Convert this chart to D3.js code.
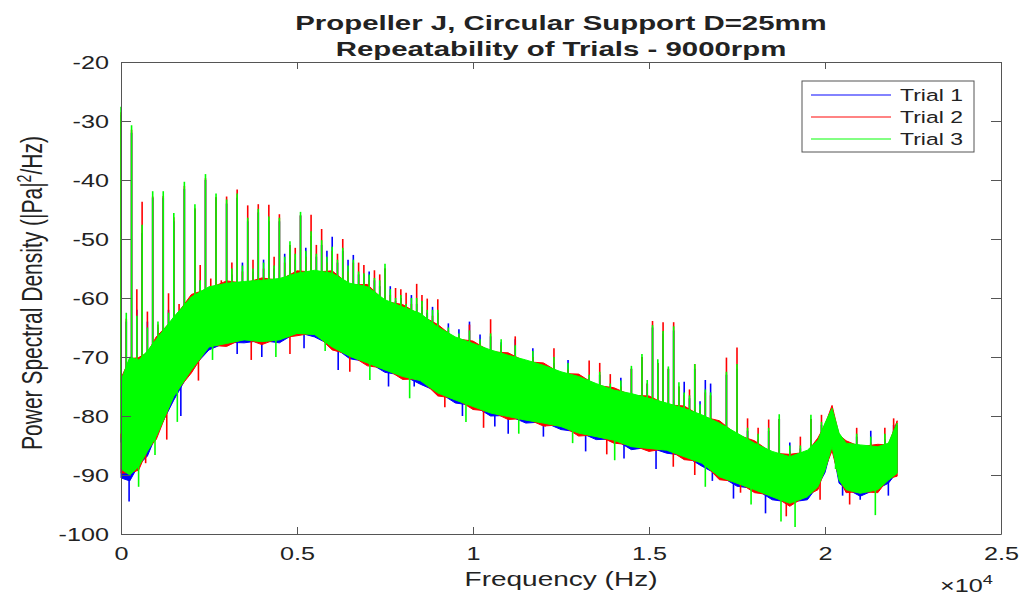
<!DOCTYPE html>
<html>
<head>
<meta charset="utf-8">
<script src="https://cdnjs.cloudflare.com/ajax/libs/d3/7.8.5/d3.min.js"></script>
<style>
body { margin: 0; background: #fff; }
text { font-family: "Liberation Sans", Arial, sans-serif; fill: #222; }
</style>
</head>
<body>
<div id="chart"></div>
<script>
// envelope of the noisy band, per trial (Hz, dB)
var freqs = [0, 250, 500, 750, 1000, 1500, 2000, 2500, 3000, 3500, 4000, 4500, 5000, 5500, 6000, 6500,
    7000, 7500, 8000, 8500, 9000, 9500, 10000, 10500, 11000, 11500, 12000, 12500, 13000, 13500, 14000,
    14500, 15000, 15500, 16000, 16500, 17000, 17500, 18000, 18500, 19000, 19500, 19800, 20000, 20200,
    20400, 20600, 21000, 21500, 21800, 22050];

var t1Hi = [-74.5, -70.5, -71, -69.5, -67.5, -63.8, -60.3, -58.6, -58, -57.6, -57.5, -57.2, -56.2, -55.8,
    -56.1, -57.9, -58.6, -60.8, -62, -63, -65.3, -67, -68.1, -69.2, -70.1, -70.9, -71.8, -72.9, -73.7, -74.9,
    -76, -76.6, -77.4, -78.2, -79.1, -80.2, -81.6, -83.3, -85, -86.4, -87.3, -86.2, -84.5, -81.6, -79.2,
    -83.3, -85, -85.3, -85.6, -85, -81.6];
var t1Lo = [-90.5, -91, -88.3, -86.8, -83.2, -77.3, -72, -68.8, -67.5, -67.6, -67.2, -67.6, -65.8, -66.6,
    -68.1, -70.3, -70.8, -72.6, -73.1, -74.6, -75.9, -77.8, -78.2, -80, -79.9, -81.2, -81, -82.3, -82.7, -84,
    -83.9, -85.7, -85.3, -86.3, -86.7, -88.5, -90.1, -91.9, -92.3, -94.2, -94.6, -94.2, -91.8, -89.6, -85,
    -91.4, -92.3, -93.6, -92.3, -91.4, -89.5];

var t2Hi = [-73.6, -70.3, -70.1, -69.3, -66.6, -63.5, -59.4, -58.4, -57.1, -57.5, -56.6, -57, -55.4, -55.6,
    -55.4, -57.8, -57.7, -60.6, -61.1, -62.9, -64.5, -66.9, -67.3, -69.1, -69.3, -70.8, -71, -72.8, -72.9,
    -74.8, -75.2, -76.5, -76.6, -78.1, -78.3, -80.1, -80.8, -83.2, -84.2, -86.3, -86.5, -86.1, -83.7, -81.5,
    -78.2, -83.2, -84.2, -85.2, -84.8, -84.9, -80.8];
var t2Lo = [-89.7, -89.6, -89.2, -85.7, -84, -76.4, -72.7, -68, -68.2, -66.8, -67.9, -66.8, -66.4, -65.9,
    -68.8, -69.6, -71.5, -71.9, -73.8, -73.7, -76.6, -77, -78.9, -79.2, -80.6, -80.4, -81.7, -81.5, -83.4,
    -83.2, -84.6, -84.9, -86, -85.5, -87.4, -87.7, -90.8, -91.1, -93, -93.4, -95.3, -93.4, -92.5, -88.9,
    -85.9, -90.6, -93, -92.8, -93, -90.6, -90.2];

var t3Hi = [-74, -70, -70.5, -69, -67, -63.2, -59.8, -58.1, -57.5, -57.2, -57, -56.7, -55.8, -55.3, -55.8,
    -57.5, -58.1, -60.3, -61.5, -62.6, -64.9, -66.6, -67.7, -68.8, -69.7, -70.5, -71.4, -72.5, -73.3, -74.5,
    -75.6, -76.2, -77, -77.8, -78.7, -79.8, -81.2, -82.9, -84.6, -86, -86.9, -85.8, -84.1, -81.2, -78.7,
    -82.9, -84.6, -84.9, -85.2, -84.6, -81.2];
var t3Lo = [-89, -90, -88.6, -86, -83.5, -76.7, -72.2, -68.3, -67.7, -67.1, -67.4, -67.1, -66, -66.2, -68.3,
    -69.9, -71, -72.2, -73.3, -74, -76.1, -77.3, -78.4, -79.5, -80.1, -80.7, -81.2, -81.8, -82.9, -83.5,
    -84.1, -85.2, -85.5, -85.8, -86.9, -88, -90.3, -91.4, -92.5, -93.7, -94.8, -93.7, -92, -89.2, -85.2,
    -90.9, -92.5, -93.1, -92.5, -90.9, -89.7];

// tonal peaks (blade passing harmonics etc.)
var spikeFreqs = [0, 150, 300, 450, 600, 750, 900, 1050, 1200, 1350, 1500, 1650, 1800, 1950, 2100, 2250,
    2400, 2550, 2700, 2850, 3000, 3300, 3600, 3900, 4200, 4500, 4800, 5100, 5400, 5700, 6000, 6300, 6600,
    6900, 7200, 7500, 7800, 8100, 8400, 8700, 9000, 9300, 9600, 10200, 10500, 13300, 13900, 14500, 14800,
    14950, 15100, 15250, 15400, 15550, 15700, 15850, 16000, 16300, 16600, 16750, 17200, 17500, 17800,
    18400, 18700, 19300, 19600, 19900, 21950];
var spikeT1 = [-29, -64, -32, -62, -49, -64, -43, -65, -43, -62, -47, -63, -41.5, -62, -45, -57, -40, -58,
    -43, -59, -44, -43, -47, -45.5, -47, -47, -51, -46, -49.5, -51, -49.6, -52, -52.7, -56, -57, -55, -60.5,
    -61.5, -61, -62.5, -62.5, -64.3, -65.3, -66.2, -66.5, -73.5, -75, -72, -70, -74.5, -65, -71, -66, -72,
    -65.5, -75, -74.2, -72, -73.9, -74.5, -73, -72, -82.5, -82.5, -80.5, -85.5, -80.5, -81.5, -81.5];
var spikeT2 = [-28.5, -63.5, -31.5, -58.5, -43.7, -62.3, -42.8, -64.5, -42.7, -59.2, -46.3, -61, -41, -60,
    -44.8, -54.4, -39.7, -56.7, -42.9, -57, -42.8, -41.6, -44.3, -44.1, -44.2, -45.8, -51, -46, -45.9, -48.3,
    -52, -50, -54, -54.4, -55.3, -55, -58.3, -59.1, -57.6, -60.1, -60.2, -65.5, -66.5, -67.5, -63.6, -70.6,
    -72.9, -72, -70, -74.5, -63.9, -71, -64.1, -72, -64.1, -75, -76.5, -71.2, -76, -76.5, -70.1, -68.4,
    -80.4, -80.6, -80.5, -83.5, -80.5, -79.8, -80.4];
var spikeT3 = [-27.6, -62.5, -30.7, -63, -47.6, -65, -41.9, -64, -41.9, -62.5, -45.6, -62.5, -40.3, -61,
    -44.1, -57, -39, -58, -42.3, -58, -43.3, -42.3, -46.4, -44.9, -46.2, -46.4, -50.4, -45.4, -48.7, -50.2,
    -51.3, -51.5, -53.5, -55.8, -56.6, -54.2, -60, -61, -60, -62, -62, -65, -66, -67, -66, -73, -74.5, -71.5,
    -69.5, -73.9, -64.6, -70.4, -65.6, -71.6, -64.8, -74.3, -76, -71.2, -75.5, -76, -72.5, -71.2, -82, -82,
    -79.7, -85, -79.8, -81, -82.5];

// smaller peaks that roughen the top of the band
var minorFreqs = [3150, 3450, 3750, 4050, 4350, 4650, 4950, 5250, 5550, 5850, 6150, 6450, 6750, 7050, 7350,
    7650, 7950, 8250, 8550, 8850, 9900, 10800, 11200, 11700, 12300, 12700, 13600, 14200, 16150, 16450,
    18100, 19000, 20900, 21300, 21700];
var minorT1 = [-56, -54, -55.5, -53.5, -55, -52.5, -53.5, -51.5, -53, -52, -54, -53.5, -56, -55.5, -58, -58,
    -60, -59.5, -61.5, -61.5, -64, -67.5, -67, -68.5, -71, -70.5, -73, -73.5, -77, -77.5, -84, -84.5, -83.5,
    -82.5, -84];
var minorT2 = [-54, -55.5, -53.5, -55, -53, -54, -51.5, -53, -51, -54, -52.5, -55.5, -54, -57, -56, -59.5,
    -58.5, -61, -59.5, -63, -64.5, -68, -66.5, -70, -68.5, -72, -71, -75, -75.5, -79, -82, -86, -82, -84.5, -82];
var minorT3 = [-55, -54.5, -55, -54, -54.5, -53, -52.5, -52, -52.5, -53, -53.5, -54.5, -55.5, -56, -57,
    -58.5, -59.5, -60, -60.5, -62, -65.5, -67, -68, -69, -70, -71, -72.5, -74, -76.5, -78, -83, -85, -83,
    -83.5, -83];

// deep dips below the band
var dipsT1 = [[230, -94.5], [1700, -80], [3300, -69.5], [4000, -70], [5200, -68.5], [6170, -72.2],
    [7600, -75], [8330, -75], [9700, -80], [10620, -81.8], [11000, -83], [12000, -83.5], [13200, -86],
    [14290, -87.2], [15200, -89], [16800, -91], [17400, -94], [18310, -96.5], [20500, -93.5], [21000, -94.2],
    [21800, -93.5]];
var dipsT2 = [[400, -89.4], [700, -88], [1300, -84], [2200, -74], [3700, -70.5], [4800, -69.5],
    [6500, -72.5], [9200, -78.5], [10300, -82], [12050, -81.8], [13800, -86.5], [15690, -88.6],
    [16300, -90], [17600, -93], [18900, -97], [19860, -94.2], [20700, -95]];
var dipsT3 = [[500, -92], [966, -86.6], [1600, -81], [2600, -70.5], [4400, -70], [5800, -69],
    [7070, -73.9], [8200, -77], [9800, -81], [11300, -83], [12830, -84.6], [14025, -87.5], [16600, -92],
    [17900, -95], [18750, -97.9], [19150, -98.8], [20300, -89], [21430, -96.8]];

var trialNames = ["Trial 1", "Trial 2", "Trial 3"];
var trialColors = ["#0000ff", "#ff0000", "#00ff00"];
var xTicks = [0, 5000, 10000, 15000, 20000, 25000];
var yTicks = [-100, -90, -80, -70, -60, -50, -40, -30, -20];
var titleLines = ["Propeller J, Circular Support D=25mm", "Repeatability of Trials - 9000rpm"];

var width = 1020, height = 595;
var margin = {top: 62, right: 19, bottom: 61, left: 121};
var w = width - margin.left - margin.right,
    h = height - margin.top - margin.bottom;
var stretch = 1.4; // the figure is wider than tall

var svg = d3.select("#chart").append("svg")
    .attr("width", width)
    .attr("height", height);

var x = d3.scaleLinear().domain([0, 25000]).range([0, w]),
    y = d3.scaleLinear().domain([-100, -20]).range([h, 0]);

svg.append("defs").append("clipPath").attr("id", "clip")
    .append("rect").attr("x", -2).attr("width", w + 2).attr("height", h);

var g = svg.append("g")
    .attr("transform", "translate(" + margin.left + "," + margin.top + ")");

var plot = g.append("g").attr("clip-path", "url(#clip)");

var trials = [
    {hi: t1Hi, lo: t1Lo, peaks: spikeT1, minor: minorT1, dips: dipsT1},
    {hi: t2Hi, lo: t2Lo, peaks: spikeT2, minor: minorT2, dips: dipsT2},
    {hi: t3Hi, lo: t3Lo, peaks: spikeT3, minor: minorT3, dips: dipsT3}
];

function vlines(sel, cls, fs, base, top, col) {
    sel.selectAll("." + cls)
        .data(fs)
        .enter().append("line")
        .attr("class", cls)
        .attr("x1", function (d) { return x(d); })
        .attr("x2", function (d) { return x(d); })
        .attr("y1", function (d, i) { return y(base(d, i)); })
        .attr("y2", function (d, i) { return y(top(d, i)); })
        .attr("stroke", col)
        .attr("stroke-width", 1.6);
}

trials.forEach(function (t, k) {
    var col = trialColors[k];
    var hiAt = d3.scaleLinear().domain(freqs).range(t.hi),
        loAt = d3.scaleLinear().domain(freqs).range(t.lo);
    var area = d3.area()
        .x(function (d, i) { return x(freqs[i]); })
        .y0(function (d, i) { return y(t.lo[i]); })
        .y1(function (d, i) { return y(t.hi[i]); });
    var tg = plot.append("g").attr("class", "trial");
    tg.append("path")
        .datum(freqs)
        .attr("d", area)
        .attr("fill", col)
        .attr("stroke", col)
        .attr("stroke-width", 1);
    vlines(tg, "peak", spikeFreqs,
        function (d) { return Math.min(hiAt(d), loAt(d) + 6); },
        function (d, i) { return t.peaks[i]; }, col);
    vlines(tg, "minor", minorFreqs,
        function (d) { return hiAt(d) - 2; },
        function (d, i) { return t.minor[i]; }, col);
    vlines(tg, "dip", t.dips.map(function (d) { return d[0]; }),
        function (d) { return loAt(d) + 3; },
        function (d, i) { return t.dips[i][1]; }, col);
});

// axes, MATLAB style: ticks inside on all four sides
var axisCol = "#555";
function styleAxis(sel) {
    sel.select(".domain").attr("stroke", axisCol);
    sel.selectAll(".tick line").attr("stroke", axisCol);
}
var fmtX = function (d) { return String(d / 1e4); },
    fmtY = function (d) { return String(d); };

var gx = g.append("g").attr("transform", "translate(0," + h + ")")
    .call(d3.axisBottom(x).tickValues(xTicks).tickSizeInner(-7).tickSizeOuter(0)
        .tickPadding(13).tickFormat(fmtX));
g.append("g")
    .call(d3.axisTop(x).tickValues(xTicks).tickSizeInner(-7).tickSizeOuter(0).tickFormat(""))
    .call(styleAxis);
var gy = g.append("g")
    .call(d3.axisLeft(y).tickValues(yTicks).tickSizeInner(-10).tickSizeOuter(0)
        .tickPadding(12 / stretch).tickFormat(fmtY));
g.append("g").attr("transform", "translate(" + w + ",0)")
    .call(d3.axisRight(y).tickValues(yTicks).tickSizeInner(-10).tickSizeOuter(0).tickFormat(""))
    .call(styleAxis);
[gx, gy].forEach(function (a) {
    a.call(styleAxis);
    a.selectAll("text")
        .attr("fill", "#222")
        .style("font-size", "18px")
        .style("font-family", "'Liberation Sans', Arial, sans-serif")
        .attr("transform", "scale(" + stretch + ",1)");
});
gx.selectAll("text").attr("x", 0);
gy.selectAll("text").attr("dy", "0.36em");

// titles and labels
titleLines.forEach(function (t, i) {
    svg.append("text")
        .attr("transform", "translate(" + (margin.left + w / 2) + "," + (30 + i * 26) + ") scale(" + stretch + ",1)")
        .attr("text-anchor", "middle")
        .style("font-weight", "bold")
        .style("font-size", "21px")
        .text(t);
});

svg.append("text")
    .attr("transform", "translate(" + (margin.left + w / 2) + ",586) scale(" + stretch + ",1)")
    .attr("text-anchor", "middle")
    .style("font-size", "20px")
    .text("Frequency (Hz)");

var mult = svg.append("text")
    .attr("transform", "translate(940,592) scale(" + stretch + ",1)")
    .style("font-size", "18px");
mult.append("tspan").text("\u00d710");
mult.append("tspan").attr("dy", -8).style("font-size", "13px").text("4");

var ylab = svg.append("text")
    .attr("transform", "translate(42," + (margin.top + h / 2 - 5) + ") rotate(-90) scale(1," + stretch + ")")
    .attr("text-anchor", "middle")
    .style("font-size", "21px");
ylab.append("tspan").text("Power Spectral Density (|Pa|");
ylab.append("tspan").attr("dy", -8).style("font-size", "14px").text("2");
ylab.append("tspan").attr("dy", 8).text("/Hz)");

// legend
var leg = svg.append("g").attr("transform", "translate(802,81)");
leg.append("rect")
    .attr("width", 172).attr("height", 71)
    .attr("fill", "#fff").attr("stroke", axisCol);
trialNames.forEach(function (n, i) {
    var yy = 14 + i * 22;
    leg.append("line")
        .attr("x1", 9).attr("x2", 89)
        .attr("y1", yy).attr("y2", yy)
        .attr("stroke", trialColors[i])
        .attr("stroke-opacity", 0.65)
        .attr("stroke-width", 1.5);
    leg.append("text")
        .attr("transform", "translate(98," + (yy + 6) + ") scale(1.35,1)")
        .style("font-size", "17px")
        .text(n);
});
</script>
</body>
</html>
